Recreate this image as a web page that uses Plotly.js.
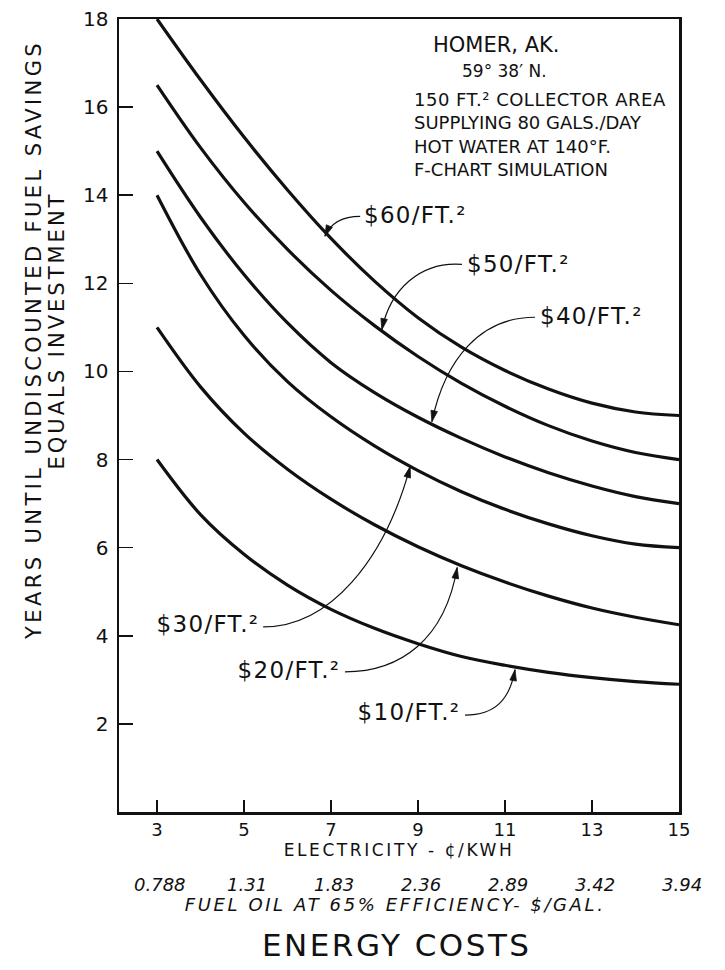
<!DOCTYPE html>
<html><head><meta charset="utf-8">
<script src="https://cdn.plot.ly/plotly-3.0.1.min.js"></script>
<style>
html,body{margin:0;padding:0;background:#fff}
#chart{width:725px;height:970px}
</style>
</head><body><div id="chart"></div>
<script>
// ---- data ----
const electricity = [3, 4, 5, 6, 7, 8, 9, 10, 11, 12, 13, 14, 15];
const cost60 = [18.0, 16.62, 15.32, 14.12, 13.02, 12.05, 11.22, 10.55, 10.02, 9.6, 9.28, 9.08, 9.0];
const cost50 = [16.5, 15.08, 13.84, 12.77, 11.84, 11.04, 10.34, 9.73, 9.21, 8.77, 8.42, 8.16, 8.0];
const cost40 = [15.0, 13.5, 12.2, 11.1, 10.2, 9.52, 8.96, 8.48, 8.06, 7.7, 7.4, 7.16, 7.0];
const cost30 = [14.0, 12.2, 10.82, 9.77, 8.97, 8.31, 7.75, 7.27, 6.87, 6.54, 6.27, 6.08, 6.0];
const cost20 = [11.0, 9.65, 8.6, 7.78, 7.1, 6.52, 6.02, 5.59, 5.22, 4.9, 4.63, 4.42, 4.25];
const cost10 = [8.0, 6.75, 5.85, 5.15, 4.6, 4.17, 3.82, 3.53, 3.33, 3.17, 3.05, 2.96, 2.9];
const seriesNames = ['$60/FT.²', '$50/FT.²', '$40/FT.²', '$30/FT.²', '$20/FT.²', '$10/FT.²'];
const seriesValues = [cost60, cost50, cost40, cost30, cost20, cost10];
const xTickVals = [3, 5, 7, 9, 11, 13, 15];
const xTickText = ['3', '5', '7', '9', '11', '13', '15'];
const fuelOilTickText = ['0.788', '1.31', '1.83', '2.36', '2.89', '3.42', '3.94'];
const yTickVals = [2, 4, 6, 8, 10, 12, 14, 16, 18];

// ---- styling / layout ----
const FONT = 'DejaVu Sans, Liberation Sans, sans-serif';
const INK = '#111';
const X_RANGE = [2.126, 15], Y_RANGE = [0, 18];
const M = {l: 119, r: 46, t: 19, b: 158};
const W = 725, H = 970;
const pxPerX = (W - M.l - M.r) / (X_RANGE[1] - X_RANGE[0]);
const pxPerY = (H - M.t - M.b) / (Y_RANGE[1] - Y_RANGE[0]);

const traces = seriesValues.map((vals, i) => ({
  type: 'scatter', mode: 'lines', name: seriesNames[i],
  x: electricity, y: vals,
  line: {color: INK, width: 3.2, shape: 'spline', smoothing: 1},
  cliponaxis: false, hoverinfo: 'skip'
}));

// curve label placement and curved leaders (cubic: start, c1, c2, tip) in axis units
const labelSpecs = [
  {x: 7.72, y: 13.55, side: 'left',  pts: [[7.67, 13.52], [7.21, 13.52], [6.98, 13.34], [6.86, 13.07]]},
  {x: 10.07, y: 12.45, side: 'left', pts: [[10.01, 12.43], [9.05, 12.5], [8.36, 11.86], [8.17, 10.95]]},
  {x: 11.75, y: 11.25, side: 'left', pts: [[11.69, 11.23], [10.43, 11.23], [9.62, 10.27], [9.32, 8.86]]},
  {x: 5.38, y: 4.27, side: 'right',  pts: [[5.44, 4.20], [6.98, 4.20], [8.24, 5.73], [8.82, 7.84]]},
  {x: 7.26, y: 3.22, side: 'right',  pts: [[7.32, 3.18], [8.59, 3.18], [9.62, 3.91], [9.90, 5.55]]},
  {x: 10.02, y: 2.27, side: 'right', pts: [[10.08, 2.20], [10.77, 2.20], [11.11, 2.55], [11.23, 3.23]]}
];

const annotations = [];
const shapes = [];
const spacing = {}; // annotation index -> letter-spacing px
function addAnn(a, sp) { if (sp) spacing[annotations.length] = sp; annotations.push(a); }

labelSpecs.forEach((s, i) => {
  addAnn({x: s.x, y: s.y, xref: 'x', yref: 'y', text: seriesNames[i], showarrow: false,
    xanchor: s.side, align: s.side, yanchor: 'middle', font: {family: FONT, size: 23, color: INK}}, 1.3);
  const p = s.pts;
  shapes.push({type: 'path', xref: 'x', yref: 'y',
    path: `M ${p[0][0]},${p[0][1]} C ${p[1][0]},${p[1][1]} ${p[2][0]},${p[2][1]} ${p[3][0]},${p[3][1]}`,
    line: {color: INK, width: 1.2}});
  // arrowhead triangle at the tip, aligned with the last control segment
  const tip = p[3], c2 = p[2];
  let ux = (c2[0] - tip[0]) * pxPerX, uy = (c2[1] - tip[1]) * pxPerY;
  const n = Math.hypot(ux, uy); ux /= n; uy /= n;
  const L = 11, HW = 3.3;
  const bx = ux * L, by = uy * L;
  const q1 = [tip[0] + (bx - uy * HW) / pxPerX, tip[1] + (by + ux * HW) / pxPerY];
  const q2 = [tip[0] + (bx + uy * HW) / pxPerX, tip[1] + (by - ux * HW) / pxPerY];
  shapes.push({type: 'path', xref: 'x', yref: 'y',
    path: `M ${tip[0]},${tip[1]} L ${q1[0]},${q1[1]} L ${q2[0]},${q2[1]} Z`,
    fillcolor: INK, line: {color: INK, width: 0.8}});
});

// info block
const infoFont = {family: FONT, size: 18, color: INK};
addAnn({x: 10.79, y: 17.41, xref: 'x', yref: 'y', text: 'HOMER, AK.', showarrow: false, xanchor: 'center', font: {family: FONT, size: 21, color: INK}});
addAnn({x: 10.98, y: 16.82, xref: 'x', yref: 'y', text: '59° 38′ N.', showarrow: false, xanchor: 'center', font: {family: FONT, size: 17, color: INK}});
addAnn({x: 8.86, y: 16.18, xref: 'x', yref: 'y', text: '150 FT.² COLLECTOR AREA', showarrow: false, xanchor: 'left', align: 'left', font: infoFont}, 0.5);
addAnn({x: 8.86, y: 15.64, xref: 'x', yref: 'y', text: 'SUPPLYING 80 GALS./DAY', showarrow: false, xanchor: 'left', align: 'left', font: infoFont});
addAnn({x: 8.86, y: 15.10, xref: 'x', yref: 'y', text: 'HOT WATER AT 140°F.', showarrow: false, xanchor: 'left', align: 'left', font: infoFont});
addAnn({x: 8.86, y: 14.59, xref: 'x', yref: 'y', text: 'F-CHART SIMULATION', showarrow: false, xanchor: 'left', align: 'left', font: infoFont});

// fuel oil secondary scale
xTickVals.forEach((v, i) => {
  addAnn({x: v, y: -0.092, xref: 'x', yref: 'paper', text: fuelOilTickText[i], showarrow: false, xshift: 3,
    xanchor: 'center', yanchor: 'middle', font: {family: FONT, size: 18, color: INK, style: 'italic'}});
});
addAnn({x: 0.493, y: -0.117, xref: 'paper', yref: 'paper', text: 'FUEL OIL AT 65% EFFICIENCY- $/GAL.', showarrow: false,
  xanchor: 'center', yanchor: 'middle', font: {family: FONT, size: 18, color: INK, style: 'italic'}}, 2.6);
addAnn({x: 0.496, y: -0.168, xref: 'paper', yref: 'paper', text: 'ENERGY COSTS', showarrow: false,
  xanchor: 'center', yanchor: 'middle', font: {family: FONT, size: 31, color: INK}}, 2.5);
addAnn({x: -0.152, y: 0.595, xref: 'paper', yref: 'paper', text: 'YEARS UNTIL UNDISCOUNTED FUEL SAVINGS', showarrow: false,
  textangle: -90, xanchor: 'center', yanchor: 'middle', font: {family: FONT, size: 21, color: INK}}, 3.4);
addAnn({x: -0.112, y: 0.607, xref: 'paper', yref: 'paper', text: 'EQUALS INVESTMENT', showarrow: false,
  textangle: -90, xanchor: 'center', yanchor: 'middle', font: {family: FONT, size: 21, color: INK}}, 3);

// letter-spacing rules (the original lettering is widely spaced)
const css = Object.keys(spacing).map(k =>
  `g.annotation[data-index="${k}"] text{letter-spacing:${spacing[k]}px}`).join('\n') +
  '\n.xtitle{letter-spacing:2.6px}';
const st = document.createElement('style'); st.textContent = css; document.head.appendChild(st);

const layout = {
  width: W, height: H,
  margin: M,
  paper_bgcolor: '#fff', plot_bgcolor: '#fff',
  showlegend: false,
  xaxis: {
    range: X_RANGE, tickvals: xTickVals, ticktext: xTickText,
    ticks: 'inside', ticklen: 12, tickwidth: 1.5, tickcolor: INK,
    showline: true, linewidth: 2.5, linecolor: INK, mirror: true,
    showgrid: false, zeroline: false,
    tickfont: {family: FONT, size: 18, color: INK},
    title: {text: 'ELECTRICITY - ¢/KWH', standoff: 4, font: {family: FONT, size: 17, color: INK}},
    fixedrange: true
  },
  yaxis: {
    range: Y_RANGE, tickvals: yTickVals,
    ticks: 'inside', ticklen: 14, tickwidth: 1.5, tickcolor: INK,
    showline: true, linewidth: 2.5, linecolor: INK, mirror: true,
    showgrid: false, zeroline: false,
    tickfont: {family: FONT, size: 20, color: INK},
    ticklabelstandoff: 4,
    fixedrange: true
  },
  annotations: annotations,
  shapes: shapes
};

Plotly.newPlot('chart', traces, layout, {staticPlot: true, displayModeBar: false});
</script>
</body></html>
